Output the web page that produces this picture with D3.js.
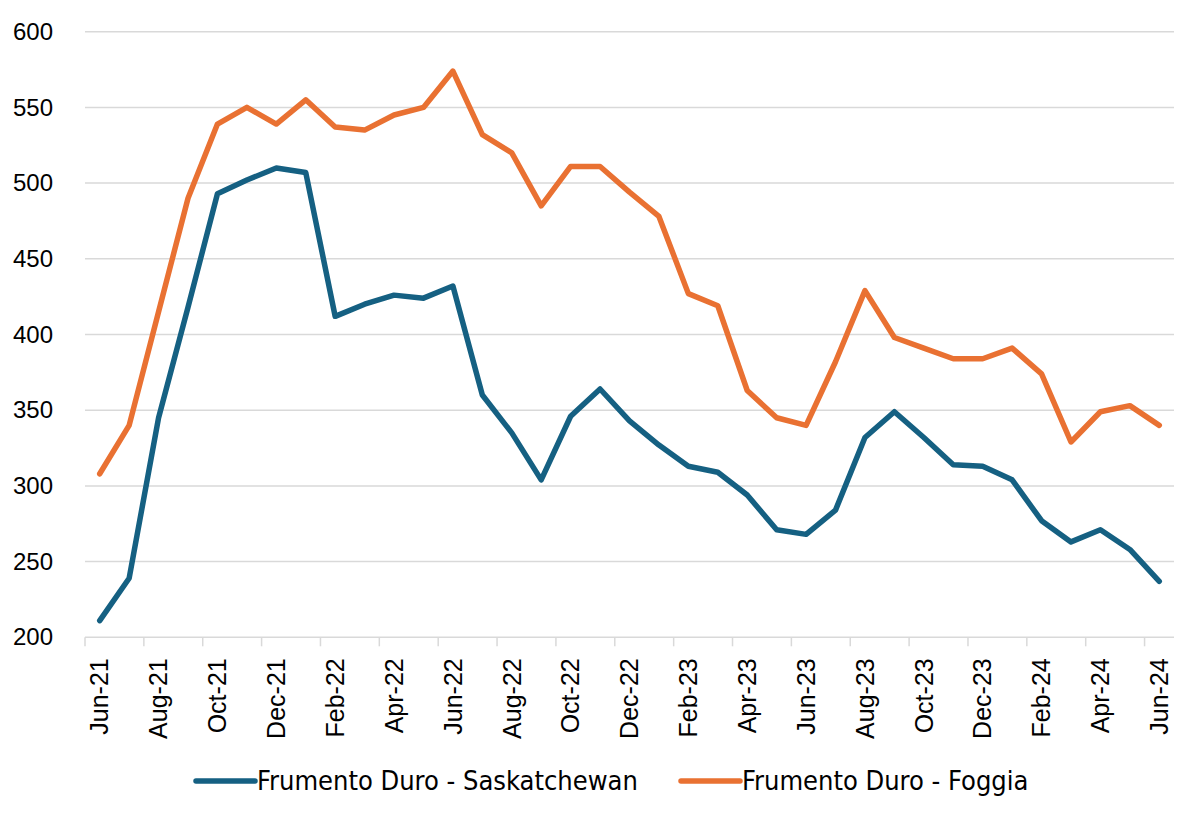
<!DOCTYPE html>
<html><head><meta charset="utf-8">
<script src="https://cdn.jsdelivr.net/npm/d3@7"></script>
<style>
html,body{margin:0;padding:0;background:#fff;}
svg{display:block;}
</style></head>
<body>
<svg id="chart" width="1200" height="820"></svg>
<script>
const months = ["Jun-21","Jul-21","Aug-21","Sep-21","Oct-21","Nov-21","Dec-21","Jan-22","Feb-22","Mar-22","Apr-22","May-22",
"Jun-22","Jul-22","Aug-22","Sep-22","Oct-22","Nov-22","Dec-22","Jan-23","Feb-23","Mar-23","Apr-23","May-23",
"Jun-23","Jul-23","Aug-23","Sep-23","Oct-23","Nov-23","Dec-23","Jan-24","Feb-24","Mar-24","Apr-24","May-24","Jun-24"];
const saskatchewan = [211,239,345,418,493,502,510,507,412,420,426,424,
432,360,335,304,346,364,343,327,313,309,294,271,
268,284,332,349,332,314,313,304,277,263,271,258,237];
const foggia = [308,340,415,490,539,550,539,555,537,535,545,550,
574,532,520,485,511,511,494,478,427,419,363,345,
340,382,429,398,391,384,384,391,374,329,349,353,340];
const yTicks = [200,250,300,350,400,450,500,550,600];
const seriesNames = ["Frumento Duro - Saskatchewan","Frumento Duro - Foggia"];
const seriesColors = ["#156082","#E97132"];

const svg = d3.select("#chart");
const plotLeft = 85, plotRight = 1174, plotTop = 31.7, plotBottom = 637.3;

const x = d3.scaleBand().domain(months).range([plotLeft, plotRight]).paddingInner(0).paddingOuter(0);
const y = d3.scaleLinear().domain([200, 600]).range([plotBottom, plotTop]);

// gridlines
svg.append("g").selectAll("line").data(yTicks).join("line")
  .attr("x1", plotLeft).attr("x2", plotRight)
  .attr("y1", d => y(d)).attr("y2", d => y(d))
  .attr("stroke", "#d9d9d9").attr("stroke-width", 1.5);

// y axis labels
const yAxis = d3.axisLeft(y).tickValues(yTicks).tickSize(0).tickPadding(0);
const gy = svg.append("g").attr("transform", `translate(${plotLeft - 32},0)`).call(yAxis);
gy.select(".domain").remove();
gy.selectAll("text").attr("font-family", "'Liberation Sans', Arial, sans-serif")
  .attr("font-size", 24).attr("fill", "#000");

// x tick marks at category boundaries (every 2 categories)
const tickCats = months.filter((d, i) => i % 2 === 0);
svg.append("g").selectAll("line").data(tickCats).join("line")
  .attr("x1", d => x(d)).attr("x2", d => x(d))
  .attr("y1", plotBottom).attr("y2", plotBottom + 9)
  .attr("stroke", "#d9d9d9").attr("stroke-width", 1.5);

// x labels
const xAxis = d3.axisBottom(x).tickValues(tickCats).tickSize(0).tickPadding(0);
const gx = svg.append("g").attr("transform", `translate(0,${plotBottom})`).call(xAxis);
gx.select(".domain").remove();
gx.selectAll("text")
  .attr("font-family", "'Liberation Sans', Arial, sans-serif")
  .attr("font-size", 25).attr("fill", "#000")
  .attr("text-anchor", "end")
  .attr("transform", "rotate(-90)")
  .attr("x", -21).attr("y", 0).attr("dy", "0.35em");

// lines
const line = d3.line().x((d, i) => x(months[i]) + x.bandwidth() / 2).y(d => y(d));
[saskatchewan, foggia].forEach((s, k) => {
  svg.append("path").datum(s)
    .attr("d", line)
    .attr("fill", "none")
    .attr("stroke", seriesColors[k])
    .attr("stroke-width", 5.5)
    .attr("stroke-linejoin", "round")
    .attr("stroke-linecap", "round");
});

// legend
const legendX = [196, 681];
const lg = svg.append("g");
seriesNames.forEach((name, k) => {
  lg.append("line")
    .attr("x1", legendX[k]).attr("x2", legendX[k] + 59)
    .attr("y1", 781).attr("y2", 781)
    .attr("stroke", seriesColors[k]).attr("stroke-width", 5.5).attr("stroke-linecap", "round");
  lg.append("text")
    .attr("x", legendX[k] + 61).attr("y", 781).attr("dy", "0.35em")
    .attr("font-family", "'Liberation Sans Narrow', 'DejaVu Sans Condensed', sans-serif")
    .attr("font-size", 27).attr("fill", "#000")
    .text(name);
});
</script>
</body></html>
